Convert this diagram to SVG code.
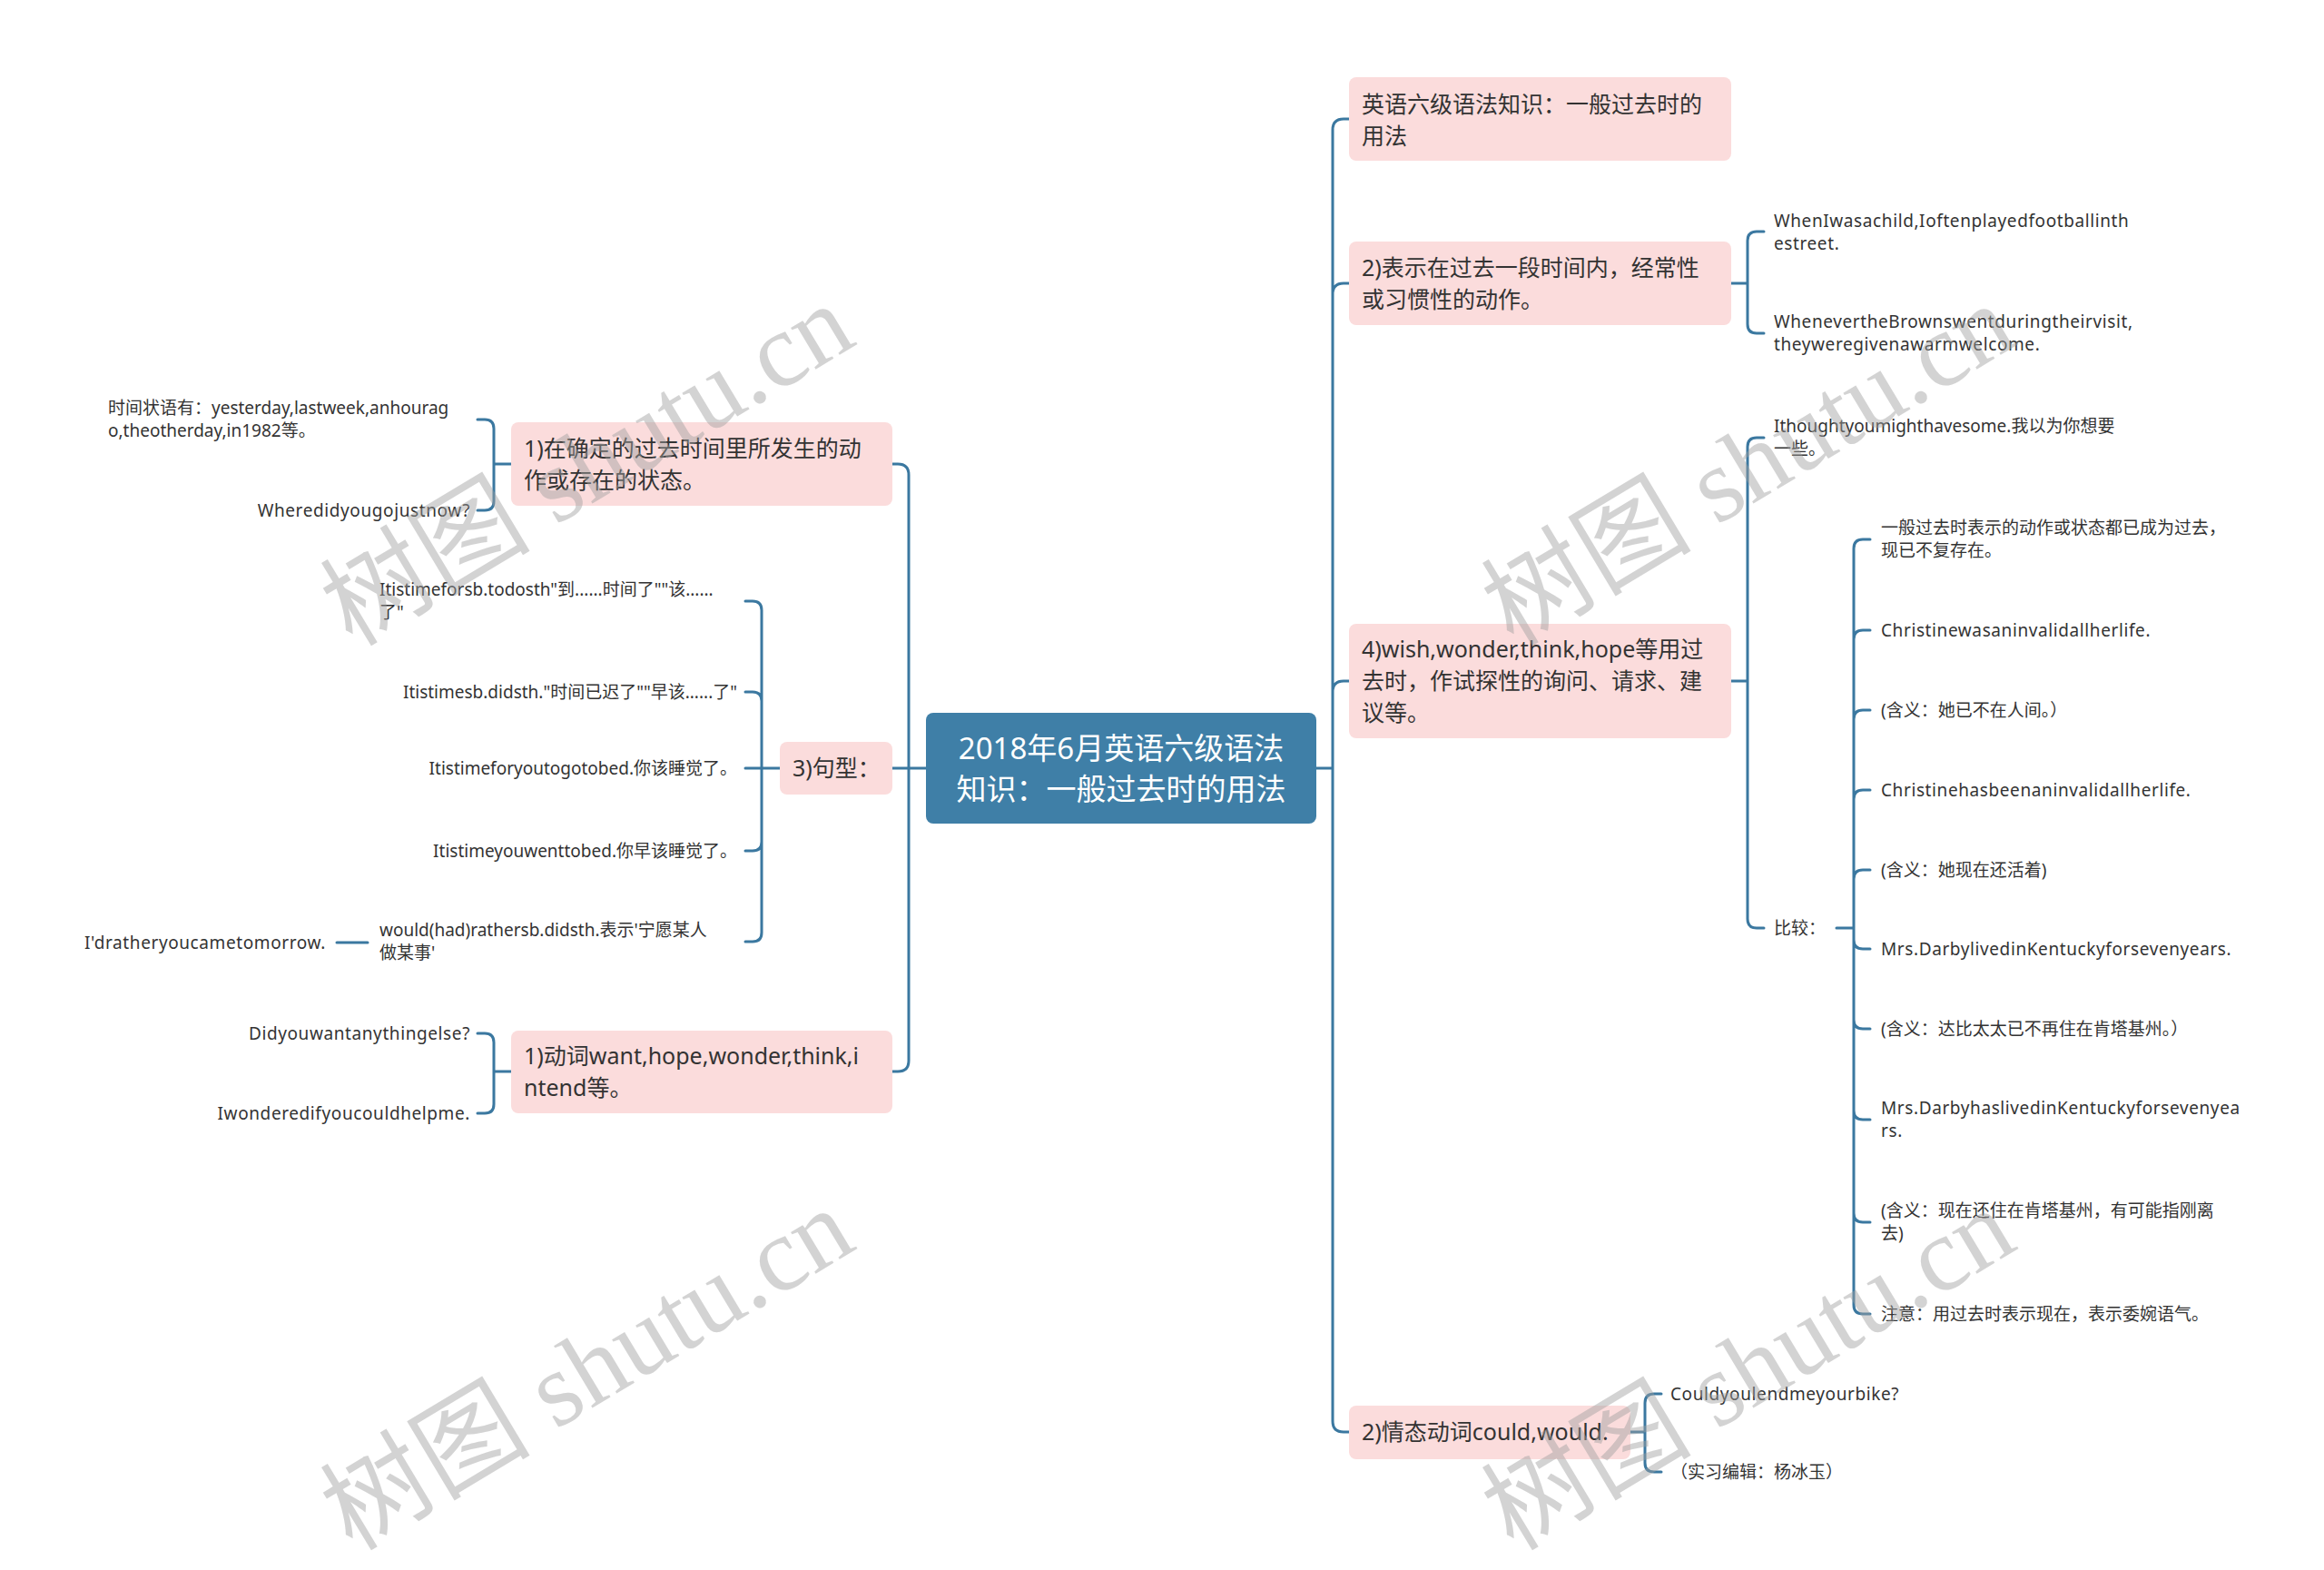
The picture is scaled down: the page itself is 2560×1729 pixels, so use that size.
<svg xmlns="http://www.w3.org/2000/svg" width="2560" height="1729" viewBox="0 0 2560 1729">
<style>
.bg{fill:#ffffff}
.box{fill:#fbdcdc}
.root{fill:#3f7fa7}
.t{font-family:"Noto Sans","Noto Sans CJK SC",sans-serif;fill:#333333}
.n{font-size:25px}
.c{font-size:19px}
.la{letter-spacing:0.6px}
.rt{font-family:"Noto Sans","Noto Sans CJK SC",sans-serif;font-size:33px;fill:#ffffff}
.ln{fill:none;stroke:#3b78a0;stroke-width:3;stroke-linecap:round}
.wm{font-family:"Liberation Serif","Noto Sans CJK SC",serif;font-size:116px;fill:#a0a0a0;opacity:0.45}
.e{text-anchor:end}
</style>
<rect class="bg" x="0" y="0" width="2560" height="1729"/>
<g id="connectors" class="ln">
<path d="M1450 846 H1468 M1468 143 V1565 M1468 143 Q1468 131 1480 131 H1486 M1468 324 Q1468 312 1480 312 H1486 M1468 762 Q1468 750 1480 750 H1486 M1468 1565 Q1468 1577 1480 1577 H1486"/>
<path d="M1020 846 H1001 M1001 523 V1168 M1001 523 Q1001 511 989 511 H983 M1001 846 H983 M1001 1168 Q1001 1180 989 1180 H983"/>
<path d="M1907 312 H1925 M1925 265 V357 M1925 265 Q1925 255 1935 255 H1943 M1925 357 Q1925 367 1935 367 H1943"/>
<path d="M1907 750 H1925 M1925 492 V1012 M1925 492 Q1925 482 1935 482 H1943 M1925 1012 Q1925 1022 1935 1022 H1943"/>
<path d="M2023 1022 H2042 M2042 604 V1437 M2042 604 Q2042 594 2052 594 H2060 M2042 704 Q2042 694 2052 694 H2060 M2042 792 Q2042 782 2052 782 H2060 M2042 880 Q2042 870 2052 870 H2060 M2042 968 Q2042 958 2052 958 H2060 M2042 1035 Q2042 1045 2052 1045 H2060 M2042 1123 Q2042 1133 2052 1133 H2060 M2042 1223 Q2042 1233 2052 1233 H2060 M2042 1336 Q2042 1346 2052 1346 H2060 M2042 1437 Q2042 1447 2052 1447 H2060"/>
<path d="M1796 1577 H1812 M1812 1545 V1611 M1812 1545 Q1812 1535 1822 1535 H1830 M1812 1611 Q1812 1621 1822 1621 H1830"/>
<path d="M563 511 H544 M544 472 V552 M544 472 Q544 462 534 462 H526 M544 552 Q544 562 534 562 H526"/>
<path d="M859 846 H839 M839 672 V1027 M839 672 Q839 662 829 662 H821 M839 772 Q839 762 829 762 H821 M839 846 H821 M839 927 Q839 937 829 937 H821 M839 1027 Q839 1037 829 1037 H821"/>
<path d="M405 1038 H371"/>
<path d="M563 1180 H544 M544 1148 V1216 M544 1148 Q544 1138 534 1138 H526 M544 1216 Q544 1226 534 1226 H526"/>
</g>
<g id="root">
<rect class="root" x="1020" y="785" width="430" height="122" rx="8"/>
<text class="rt" x="1235" y="836" text-anchor="middle">2018年6月英语六级语法</text>
<text class="rt" x="1235" y="881" text-anchor="middle">知识：一般过去时的用法</text>
</g>
<g id="b1">
<rect class="box" x="1486" y="85" width="421" height="92" rx="8"/>
<text class="t n" x="1500" y="124">英语六级语法知识：一般过去时的</text>
<text class="t n" x="1500" y="159">用法</text>
</g>
<g id="b2">
<rect class="box" x="1486" y="266" width="421" height="92" rx="8"/>
<text class="t n" x="1500" y="304">2)表示在过去一段时间内，经常性</text>
<text class="t n" x="1500" y="339">或习惯性的动作。</text>
</g>
<g id="b2c1"><text class="t c la" x="1954" y="250">WhenIwasachild,Ioftenplayedfootballinth</text><text class="t c la" x="1954" y="275">estreet.</text></g>
<g id="b2c2"><text class="t c la" x="1954" y="361">WhenevertheBrownswentduringtheirvisit,</text><text class="t c la" x="1954" y="386">theyweregivenawarmwelcome.</text></g>
<g id="b3">
<rect class="box" x="1486" y="687" width="421" height="126" rx="8"/>
<text class="t n" x="1500" y="724">4)wish,wonder,think,hope等用过</text>
<text class="t n" x="1500" y="759">去时，作试探性的询问、请求、建</text>
<text class="t n" x="1500" y="794">议等。</text>
</g>
<g id="b3c1"><text class="t c" x="1954" y="476">Ithoughtyoumighthavesome.我以为你想要</text><text class="t c" x="1954" y="501">一些。</text></g>
<g id="b3c2"><text class="t c" x="1954" y="1029">比较：</text></g>
<g id="k1"><text class="t c" x="2072" y="588">一般过去时表示的动作或状态都已成为过去，</text><text class="t c" x="2072" y="613">现已不复存在。</text></g>
<g id="k2"><text class="t c la" x="2072" y="701">Christinewasaninvalidallherlife.</text></g>
<g id="k3"><text class="t c" x="2072" y="789">(含义：她已不在人间。）</text></g>
<g id="k4"><text class="t c la" x="2072" y="877">Christinehasbeenaninvalidallherlife.</text></g>
<g id="k5"><text class="t c" x="2072" y="965">(含义：她现在还活着)</text></g>
<g id="k6"><text class="t c la" x="2072" y="1052">Mrs.DarbylivedinKentuckyforsevenyears.</text></g>
<g id="k7"><text class="t c" x="2072" y="1140">(含义：达比太太已不再住在肯塔基州。）</text></g>
<g id="k8"><text class="t c la" x="2072" y="1227">Mrs.DarbyhaslivedinKentuckyforsevenyea</text><text class="t c la" x="2072" y="1252">rs.</text></g>
<g id="k9"><text class="t c" x="2072" y="1340">(含义：现在还住在肯塔基州，有可能指刚离</text><text class="t c" x="2072" y="1365">去)</text></g>
<g id="k10"><text class="t c" x="2072" y="1454">注意：用过去时表示现在，表示委婉语气。</text></g>
<g id="b4">
<rect class="box" x="1486" y="1548" width="310" height="59" rx="8"/>
<text class="t n" x="1500" y="1586">2)情态动词could,would.</text>
</g>
<g id="b4c1"><text class="t c la" x="1840" y="1542">Couldyoulendmeyourbike?</text></g>
<g id="b4c2"><text class="t c" x="1840" y="1628">（实习编辑：杨冰玉）</text></g>
<g id="l1">
<rect class="box" x="563" y="465" width="420" height="92" rx="8"/>
<text class="t n" x="577" y="503">1)在确定的过去时间里所发生的动</text>
<text class="t n" x="577" y="538">作或存在的状态。</text>
</g>
<g id="l1c1"><text class="t c" x="119" y="456">时间状语有：yesterday,lastweek,anhourag</text><text class="t c" x="119" y="481">o,theotherday,in1982等。</text></g>
<g id="l1c2"><text class="t c e la" x="518" y="569">Wheredidyougojustnow?</text></g>
<g id="l2">
<rect class="box" x="859" y="817" width="124" height="58" rx="8"/>
<text class="t n" x="873" y="855">3)句型：</text>
</g>
<g id="l2c1"><text class="t c" x="418" y="656">Itistimeforsb.todosth"到......时间了""该......</text><text class="t c" x="418" y="681">了"</text></g>
<g id="l2c2"><text class="t c e" x="812" y="769">Itistimesb.didsth."时间已迟了""早该......了"</text></g>
<g id="l2c3"><text class="t c e" x="812" y="853">Itistimeforyoutogotobed.你该睡觉了。</text></g>
<g id="l2c4"><text class="t c e" x="812" y="944">Itistimeyouwenttobed.你早该睡觉了。</text></g>
<g id="l2c5"><text class="t c" x="418" y="1031">would(had)rathersb.didsth.表示'宁愿某人</text><text class="t c" x="418" y="1056">做某事'</text></g>
<g id="l2c5a"><text class="t c e la" x="359" y="1045">I'dratheryoucametomorrow.</text></g>
<g id="l3">
<rect class="box" x="563" y="1135" width="420" height="91" rx="8"/>
<text class="t n" x="577" y="1172">1)动词want,hope,wonder,think,i</text>
<text class="t n" x="577" y="1207">ntend等。</text>
</g>
<g id="l3c1"><text class="t c e la" x="518" y="1145">Didyouwantanythingelse?</text></g>
<g id="l3c2"><text class="t c e la" x="518" y="1233">Iwonderedifyoucouldhelpme.</text></g>
<g id="watermarks">
<text class="wm" x="648" y="551" text-anchor="middle" transform="rotate(-31 648 514)">树图 shutu.cn</text>
<text class="wm" x="1927" y="551" text-anchor="middle" transform="rotate(-31 1927 514)">树图 shutu.cn</text>
<text class="wm" x="648" y="1547" text-anchor="middle" transform="rotate(-31 648 1510)">树图 shutu.cn</text>
<text class="wm" x="1927" y="1547" text-anchor="middle" transform="rotate(-31 1927 1510)">树图 shutu.cn</text>
</g>
</svg>
